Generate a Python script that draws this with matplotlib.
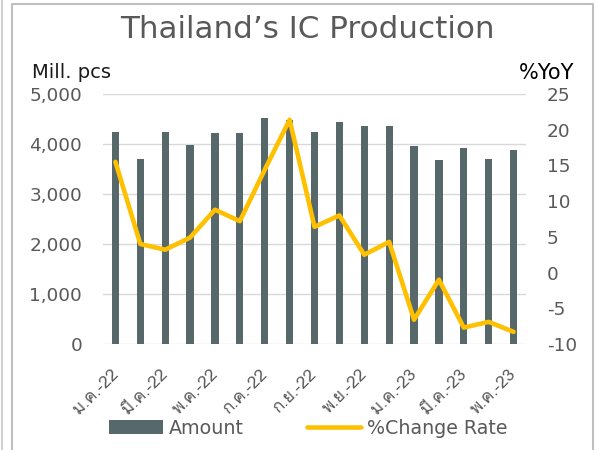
import matplotlib
matplotlib.use("Agg")
import matplotlib.pyplot as plt
from matplotlib import font_manager, ft2font
from matplotlib.lines import Line2D
from matplotlib.ticker import FuncFormatter
from matplotlib.transforms import ScaledTranslation

# monthly data, Jan-22 .. May-23
months = ["ม.ค.-22", "ก.พ.-22", "มี.ค.-22", "เม.ย.-22", "พ.ค.-22", "มิ.ย.-22",
          "ก.ค.-22", "ส.ค.-22", "ก.ย.-22", "ต.ค.-22", "พ.ย.-22", "ธ.ค.-22",
          "ม.ค.-23", "ก.พ.-23", "มี.ค.-23", "เม.ย.-23", "พ.ค.-23"]
amount = [4240, 3710, 4235, 3980, 4225, 4225, 4515, 4480, 4233, 4433,
          4365, 4360, 3960, 3673, 3913, 3700, 3880]
change_rate = [15.5, 4.0, 3.2, 4.9, 8.8, 7.2, 14.4, 21.4, 6.4, 8.0,
               2.5, 4.3, -6.6, -1.0, -7.7, -6.9, -8.3]

BAR = "#57686a"
LINE = "#ffc000"
GREY = "#595959"


def find_thai_font():
    # first installed font that has Thai glyphs
    for f in font_manager.fontManager.ttflist:
        try:
            if ord("ก") in ft2font.FT2Font(f.fname).get_charmap():
                return f.name
        except Exception:
            pass
    return None


thai = find_thai_font()
thai_family = [thai, "DejaVu Sans"] if thai else ["DejaVu Sans"]

plt.rcParams["font.family"] = ["DejaVu Sans"]
plt.rcParams["axes.unicode_minus"] = False

fig = plt.figure(figsize=(6.03, 4.5), dpi=100)
ax = fig.add_axes([103 / 603, 1 - 344 / 450, 423 / 603, 250 / 450])
ax2 = ax.twinx()

x = list(range(len(months)))
ax.bar(x, amount, width=0.29, color=BAR, zorder=2, label="Amount")
ax2.plot(x, change_rate, color=LINE, lw=3.3, solid_joinstyle="round",
         solid_capstyle="round", label="%Change Rate")

ax.set_xlim(-0.5, len(months) - 0.5)
ax.set_ylim(0, 5000)
ax.set_yticks(range(0, 5001, 1000))
ax.yaxis.set_major_formatter(FuncFormatter(lambda v, p: f"{v:,.0f}"))
ax2.set_ylim(-10, 25)
ax2.set_yticks(range(-10, 26, 5))

ax.grid(axis="y", color="#d9d9d9", lw=1.0, zorder=0)
ax.set_axisbelow(True)
for a in (ax, ax2):
    for s in a.spines.values():
        s.set_visible(False)
    a.tick_params(length=0, labelsize=13.3, labelcolor=GREY)
ax.tick_params(axis="y", pad=15)
ax2.tick_params(axis="y", pad=15)

ax.set_xticks(x[::2])
ax.set_xticklabels(months[::2], rotation=45, ha="right", va="top",
                   rotation_mode="anchor", family=thai_family, fontsize=12.3)
ax.tick_params(axis="x", pad=16)
# nudge the slanted month labels a little to the left
shift = ScaledTranslation(-5 / 100, 0, fig.dpi_scale_trans)
for lab in ax.get_xticklabels():
    lab.set_transform(lab.get_transform() + shift)

fig.text(307 / 603, 1 - 29 / 450, "Thailand’s IC Production", ha="center",
         va="center", fontsize=22.3, color=GREY)
fig.text(32 / 603, 1 - 72 / 450, "Mill. pcs", ha="left", va="center",
         fontsize=14, color="#1a1a1a")
fig.text(574 / 603, 1 - 73 / 450, "%YoY", ha="right", va="center",
         fontsize=15, color="black")

h1, l1 = ax.get_legend_handles_labels()
h2, l2 = ax2.get_legend_handles_labels()
fig.legend(h1 + h2, l1 + l2, loc="center", bbox_to_anchor=(308 / 603, 1 - 428 / 450),
           ncol=2, frameon=False, fontsize=13.7, labelcolor=GREY,
           handlelength=2.85, handletextpad=0.3, columnspacing=3.3)

# chart frame
fig.add_artist(Line2D([12 / 603, 12 / 603, 593 / 603, 593 / 603],
                      [0, 1 - 4 / 450, 1 - 4 / 450, 0],
                      transform=fig.transFigure, color="#bfbfbf", lw=1.5))
fig.add_artist(Line2D([1.5 / 603, 1.5 / 603], [0, 1], transform=fig.transFigure,
                      color="#d0d0d0", lw=1.5))

fig.savefig("out.png", dpi=100)
